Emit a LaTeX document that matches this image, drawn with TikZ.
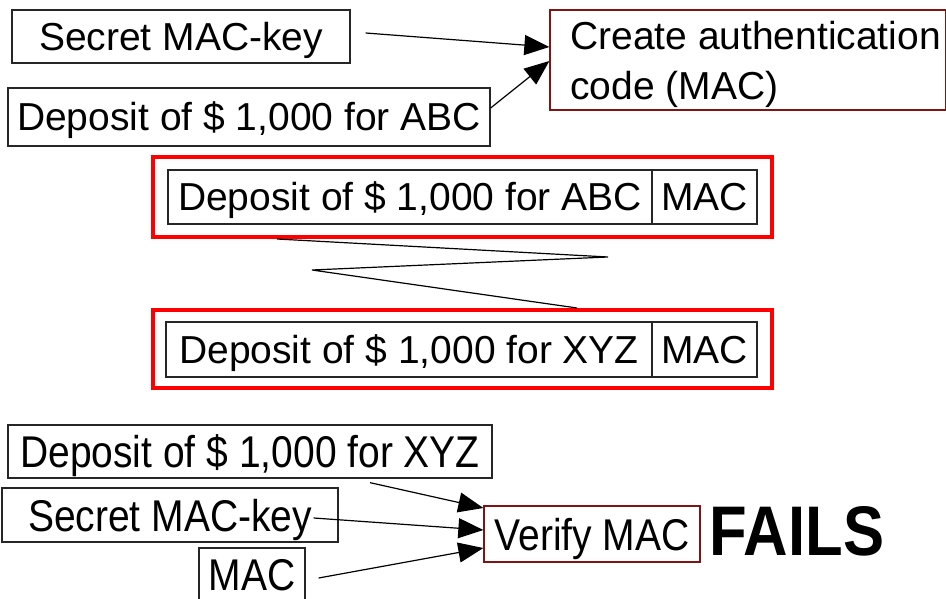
\documentclass[tikz,border=0pt]{standalone}
\usepackage{fontspec}
\setmainfont{Liberation Sans}
\usetikzlibrary{arrows.meta}
\definecolor{darkred}{RGB}{128,20,20}
\newcommand{\vstr}[1]{\scalebox{1}[1.14]{#1}}
\begin{document}
\begin{tikzpicture}[x=1pt,y=-1pt,
  box/.style={draw=black!85, line width=1.3pt, inner sep=0pt,
    font=\fontsize{39}{46}\selectfont, text height=28pt, text depth=0pt},
  boxb/.style={box, text height=32pt},
  rbox/.style={box, draw=darkred},
  frame/.style={draw=red, line width=4pt, inner sep=0pt},
  arr/.style={line width=1.2pt, -{Triangle[length=25pt,width=20pt]}}]
\useasboundingbox (0,0) rectangle (946,599);
% top
\node[box, minimum width=338pt, minimum height=53pt] (keyA) at (181,36.5) {Secret MAC-key};
\node[box, minimum width=482pt, minimum height=58pt] (dA) at (249,117) {Deposit of \$ 1,000 for ABC};
\node[rbox, minimum width=396pt, minimum height=100pt] (create) at (748,60) {};
\node[font=\fontsize{39}{50}\selectfont, anchor=north west, align=left, inner sep=0pt] (ctext) at (570,21) {Create authentication\\code (MAC)};
\draw[arr] ([xshift=15pt,yshift=3.5pt]keyA.east) -- ([yshift=13pt]create.west);
\draw[arr] ([yshift=9pt]dA.east) -- ([yshift=-1pt]create.west);
% middle
\node[frame, minimum width=619pt, minimum height=80pt] (fr1) at (462.5,197) {};
\node[box, minimum width=484pt, minimum height=54pt] (mA) at (410,197) {Deposit of \$ 1,000 for ABC};
\node[box, minimum width=105pt, minimum height=54pt] (macA) at (704.5,197) {MAC};
\node[frame, minimum width=619pt, minimum height=78pt] (fr2) at (462.5,349) {};
\node[box, minimum width=486pt, minimum height=55pt] (mX) at (409,349.5) {Deposit of \$ 1,000 for XYZ};
\node[box, minimum width=105pt, minimum height=55pt] (macX) at (704.5,349.5) {MAC};
\coordinate (z1) at (608,257);
\coordinate (z2) at (312,270);
\draw[line width=1.2pt] ([xshift=-185.5pt]fr1.south) -- (z1) -- (z2) -- ([xshift=114.5pt]fr2.north);
% bottom
\node[boxb, minimum width=484pt, minimum height=53pt] (dX) at (250,451.5) {\vstr{Deposit of \$ 1,000 for XYZ}};
\node[boxb, minimum width=336pt, minimum height=54pt] (keyB) at (170,515) {\vstr{Secret MAC-key}};
\node[boxb, minimum width=106pt, minimum height=52pt] (macB) at (252,574) {\vstr{MAC}};
\node[boxb, draw=darkred, minimum width=216pt, minimum height=56pt] (ver) at (592,534) {\vstr{Verify MAC}};
\node[font=\bfseries\fontsize{61.6}{70}\selectfont, inner sep=0pt, text height=50pt, text depth=0pt] (fails) at (797,530) {\vstr{FAILS}};
\draw[arr] ([xshift=120pt,yshift=-4pt]dX.south) -- ([yshift=26pt]ver.west);
\draw[arr] ([xshift=-25pt,yshift=-3pt]keyB.east) -- ([yshift=4pt]ver.west);
\draw[arr] ([xshift=13pt,yshift=-4pt]macB.east) -- ([yshift=-14pt]ver.west);
\end{tikzpicture}
\end{document}
